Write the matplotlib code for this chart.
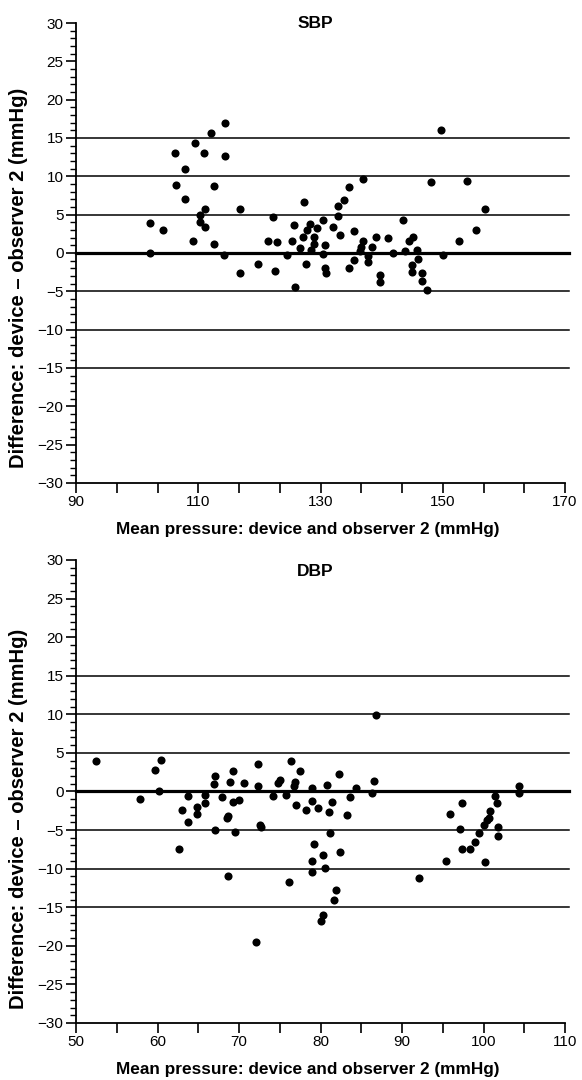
import numpy as np
import matplotlib
matplotlib.use('Agg')
import matplotlib.pyplot as plt
from matplotlib.ticker import MultipleLocator

plt.rcParams['font.family'] = ['Liberation Sans', 'DejaVu Sans']

# SBP: mean of device and observer 2 vs difference
sbp_mean = [114.4, 112.1, 109.5, 106.2, 110.9, 114.3, 107.8, 106.4, 112.5, 107.8,
            111.1, 116.8, 127.3, 110.3, 110.3, 102.1, 104.2, 111.1, 122.2, 109.2,
            112.5, 121.4, 122.9, 102.1, 114.2, 116.9, 119.8, 122.6, 124.5, 125.3,
            125.7, 125.9, 126.6, 127.1, 127.8, 128.2, 127.7, 128.9, 128.9, 129.4,
            128.4, 130.4, 130.7, 130.4, 130.8, 130.9, 132.0, 132.8, 132.9, 133.2,
            133.8, 134.6, 135.4, 134.6, 135.5, 137.0, 136.9, 136.6, 136.4, 137.7,
            137.8, 138.5, 139.1, 139.7, 139.8, 141.0, 141.9, 143.5, 143.9, 144.5,
            145.1, 145.8, 145.95, 144.9, 145.0, 146.6, 146.6, 147.5, 148.1, 149.7,
            150.0, 153.9, 152.7, 155.4, 156.9]
sbp_diff = [17.0, 15.7, 14.4, 13.1, 13.1, 12.6, 11.0, 8.9, 8.8, 7.1,
            5.8, 5.7, 6.6, 5.0, 4.1, 3.95, 3.0, 3.35, 4.7, 1.6,
            1.2, 1.56, 1.4, 0.0, -0.2, -2.6, -1.4, -2.3, -0.3, 1.5,
            3.7, -4.5, 0.6, 2.1, 3.0, 3.8, -1.4, 2.1, 1.2, 3.2,
            0.4, 4.3, 1.0, -0.1, -2.0, -2.6, 3.35, 6.1, 4.8, 2.4,
            6.95, 8.6, 2.9, -1.9, -0.96, 9.6, 1.6, 0.8, 0.2, -0.35,
            -1.2, 0.8, 2.1, -2.9, -3.8, 2.0, 0.0, 4.3, 0.3, 1.5,
            2.1, 0.4, -0.8, -1.6, -2.5, -2.6, -3.65, -4.8, 9.2, 16.1,
            -0.2, 9.4, 1.5, 3.0, 5.7]

# DBP
dbp_mean = [52.5, 60.4, 59.7, 60.2, 57.8, 63.8, 63.0, 63.8, 62.6, 64.9,
            64.8, 65.8, 65.8, 67.1, 66.9, 67.1, 67.9, 68.9, 69.3, 68.6,
            68.5, 69.3, 69.96, 69.5, 70.6, 72.3, 72.3, 72.6, 72.7, 74.2,
            72.1, 68.6, 74.8, 75.0, 75.8, 76.4, 76.7, 76.9, 77.5, 77.0,
            78.2, 79.0, 79.0, 79.65, 80.8, 81.4, 81.0, 82.3, 83.2, 83.6,
            84.3, 86.3, 86.6, 86.8, 81.2, 79.2, 80.3, 82.4, 79.0, 80.6,
            79.0, 76.1, 81.9, 81.7, 80.35, 80.0, 92.1, 95.9, 95.4, 100.2,
            97.4, 97.1, 97.3, 98.3, 99.0, 99.4, 100.0, 100.4, 100.7, 100.8,
            101.4, 101.6, 101.8, 101.8, 104.4, 104.4]
dbp_diff = [3.9, 4.1, 2.8, 0.1, -1.0, -0.6, -2.4, -4.0, -7.5, -2.0,
            -2.9, -0.4, -1.5, 2.0, 1.0, -5.05, -0.7, 1.2, 2.7, -3.2,
            -3.5, -1.4, -1.1, -5.2, 1.1, 3.6, 0.7, -4.4, -4.6, -0.6,
            -19.5, -11.0, 1.1, 1.5, -0.5, 3.9, 0.7, 1.25, 2.7, -1.7,
            -2.4, 0.4, -1.2, -2.1, 0.8, -1.3, -2.7, 2.3, -3.1, -0.7,
            0.5, -0.2, 1.3, 9.9, -5.4, -6.8, -8.2, -7.9, -9.0, -9.9,
            -10.4, -11.7, -12.8, -14.1, -16.0, -16.8, -11.2, -2.9, -9.0, -9.1,
            -1.5, -4.9, -7.5, -7.5, -6.6, -5.4, -4.4, -3.75, -3.5, -2.5,
            -0.6, -1.5, -4.6, -5.8, 0.65, -0.2]

ref_lines = [15, 10, 5, 0, -5, -10, -15]
sbp_xticks = [90, 110, 130, 150, 170]
dbp_xticks = [50, 60, 70, 80, 90, 100, 110]
yticks = list(range(-30, 31, 5))
xlabel = 'Mean pressure: device and observer 2 (mmHg)'
ylabel = 'Difference: device \u2013 observer 2 (mmHg)'

fig = plt.figure(figsize=(5.82, 10.8), dpi=100)
ax1 = fig.add_axes([0.1306, 0.5528, 0.8402, 0.4259])
ax2 = fig.add_axes([0.1306, 0.0528, 0.8402, 0.4287])


def style(ax, x, y, xticks, n_minor, title, title_y, ylab_y):
    for v in ref_lines:
        ax.axhline(v, xmin=0, xmax=1.008, color='black',
                   lw=2.3 if v == 0 else 1.1, zorder=1, clip_on=False)
    ax.scatter(x, y, s=34, color='black', zorder=3, linewidths=0)
    ax.set_xlim(xticks[0], xticks[-1])
    ax.set_ylim(-30, 30)
    ax.set_xticks(xticks)
    step = (xticks[1] - xticks[0]) / n_minor
    ax.set_xticks(np.arange(xticks[0], xticks[-1] + step / 2, step), minor=True)
    ax.set_yticks(yticks)
    ax.set_yticklabels([('\u2212' + str(-v)) if v < 0 else str(v) for v in yticks])
    ax.yaxis.set_minor_locator(MultipleLocator(1))
    for side in ['top', 'right']:
        ax.spines[side].set_visible(False)
    for side in ['left', 'bottom']:
        ax.spines[side].set_linewidth(1.3)
    ax.tick_params(axis='both', which='major', direction='out', length=7,
                   width=1.2, labelsize=11, pad=2)
    ax.tick_params(axis='y', which='minor', direction='out', length=4, width=1.0)
    ax.tick_params(axis='x', which='minor', direction='out', length=7, width=1.2)
    ax.set_xlabel(xlabel, fontsize=12.4, fontweight='bold')
    ax.xaxis.set_label_coords(0.473, -0.085)
    ax.set_ylabel(ylabel, fontsize=14.5, fontweight='bold')
    ax.yaxis.set_label_coords(-0.098, ylab_y)
    ax.text(0.49, title_y, title, transform=ax.transAxes, ha='center',
            va='center', fontsize=12.5, fontweight='bold')


style(ax1, sbp_mean, sbp_diff, sbp_xticks, 3, 'SBP', 1.0, 0.445)
style(ax2, dbp_mean, dbp_diff, dbp_xticks, 2, 'DBP', 0.975, 0.44)

fig.savefig('out.png', dpi=100)
